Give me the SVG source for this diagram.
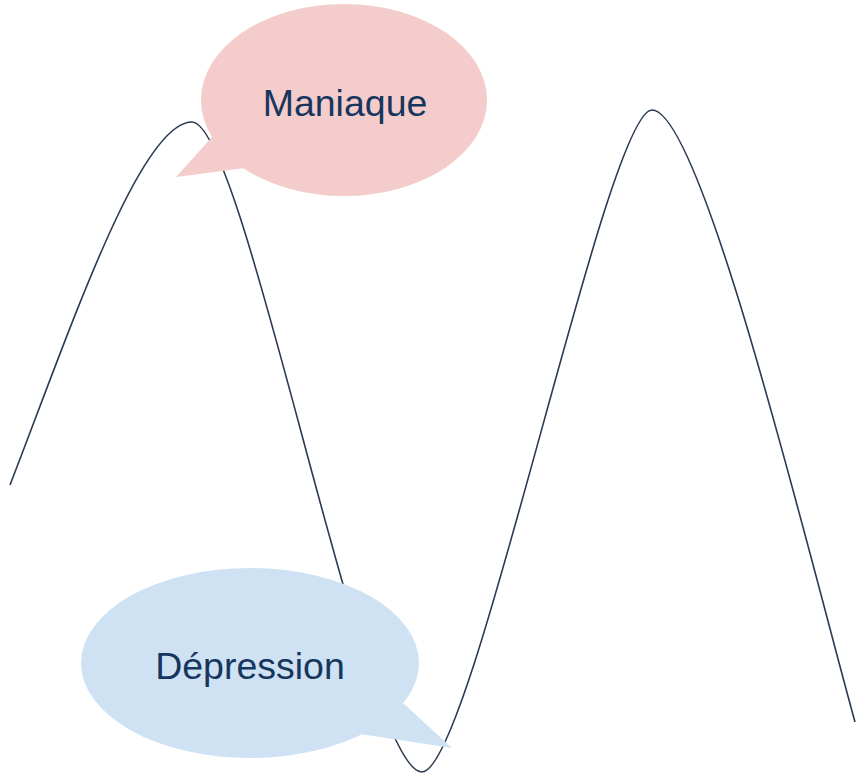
<svg xmlns="http://www.w3.org/2000/svg" width="857" height="774" viewBox="0 0 857 774">
<style>
.wave{fill:none;stroke:#2b3a52;stroke-width:1.6}
.lbl{font-family:"Liberation Sans",Arial,sans-serif;font-size:37.5px;fill:#17365d;text-anchor:middle}
.pink{fill:#f4cccc}
.blue{fill:#cfe2f3}
</style>
<rect width="857" height="774" fill="#ffffff"/>
<g id="connectors">
<path class="wave" d="M10,485 C70,330 140,122 192,122 C245,122 364,772 422,772 C472,772 606,110 652,110 C702,110 810,560 855,722"/>
</g>
<g id="maniaque">
<ellipse class="pink" cx="344" cy="100" rx="143" ry="96"/>
<polygon class="pink" points="213,136 176,177 245,168"/>
<text class="lbl" x="345" y="116">Maniaque</text>
</g>
<g id="depression">
<ellipse class="blue" cx="250" cy="663" rx="169" ry="95"/>
<polygon class="blue" points="403,703 452,748 360,734"/>
<text class="lbl" x="250" y="679">Dépression</text>
</g>
</svg>
